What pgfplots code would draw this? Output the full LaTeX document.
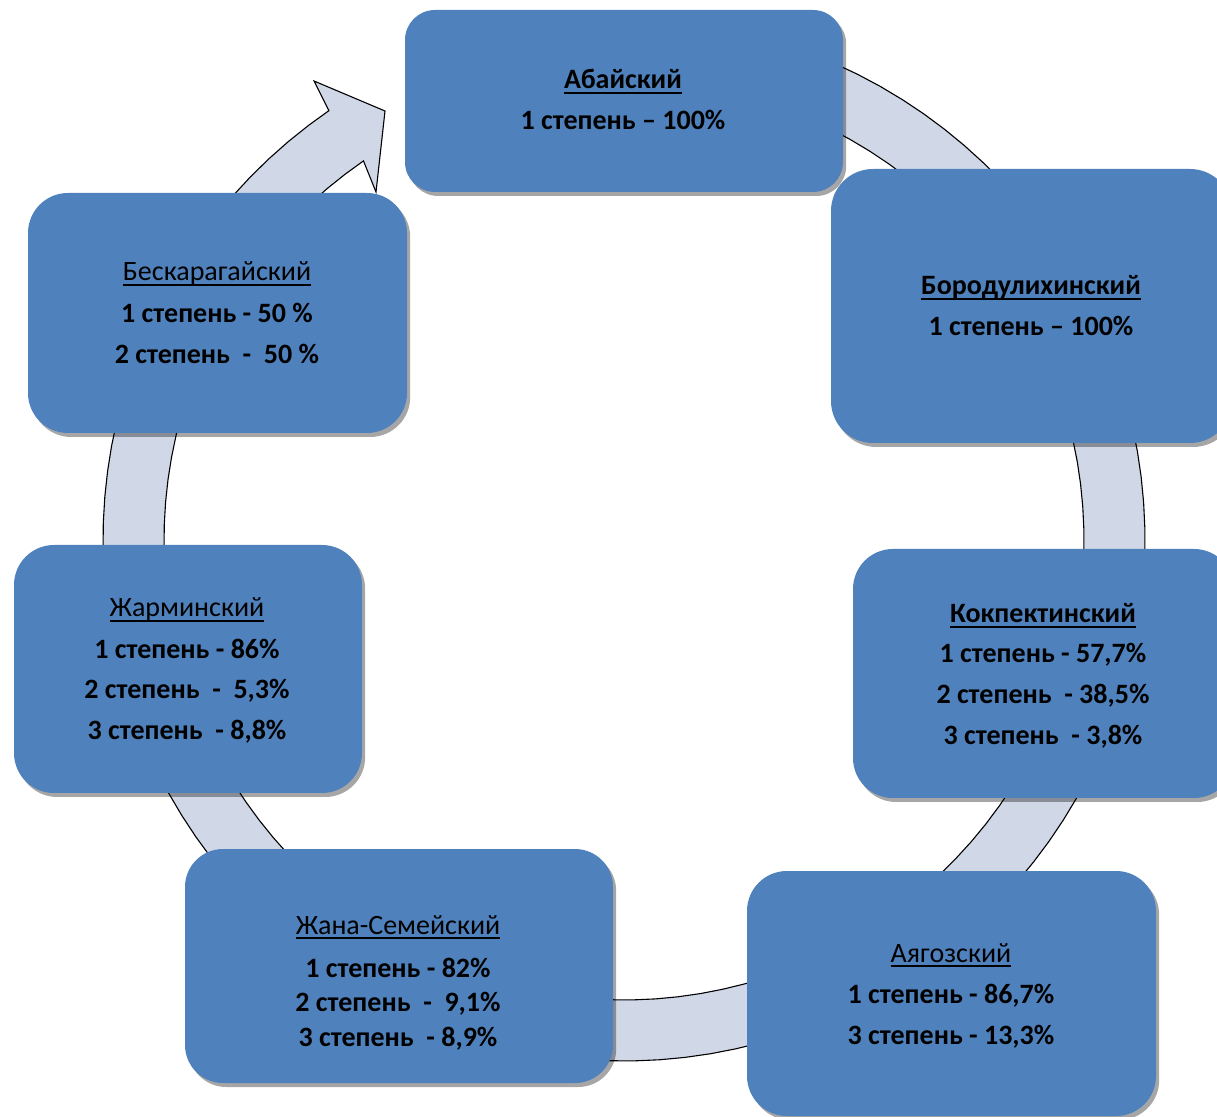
\documentclass[border=0pt]{standalone}
\usepackage{pgfplots}
\pgfplotsset{compat=1.18}
\usepackage{fontspec}
\setmainfont{Carlito}
\usetikzlibrary{shadows}
\definecolor{boxblue}{HTML}{4F81BD}
\definecolor{ringfill}{HTML}{D0D8E8}
\newcommand{\bx}[5]{%
  \fill[boxblue, rounded corners=#5,
    drop shadow={shadow xshift=1.6pt, shadow yshift=-2pt, fill=black, opacity=0.35}]
    (axis cs:#1,#2) rectangle (axis cs:#3,#4);}
\newcommand{\ul}[1]{\setbox0\hbox{#1}\rlap{\rule[-2.6pt]{\wd0}{1pt}}\box0}
\newcommand{\tl}[3]{\node[anchor=base, inner sep=0pt, font=\fontsize{14}{17}\selectfont] at (axis cs:#1,#2) {#3};}
\begin{document}
\begin{tikzpicture}
\begin{axis}[x=0.5pt, y=0.5pt, y dir=reverse,
  xmin=0, xmax=1217, ymin=0, ymax=1117,
  hide axis, scale only axis, clip=false]
% ring arrow
\filldraw[fill=ringfill, draw=black, line width=0.55pt]
  plot[domain=100:-235.5, samples=120, variable=\t] ({624+521*cos(\t)},{540-521*sin(\t)})
  -- (314,81) -- (385,111) -- (376,192)
  -- plot[domain=-235.5:100, samples=120, variable=\t] ({624+460*cos(\t)},{540-460*sin(\t)})
  -- cycle;
% boxes
\bx{831}{169}{1232}{443}{21pt}
\bx{405}{10}{843}{192}{15pt}
\bx{853}{549}{1234}{798}{20pt}
\bx{747}{871}{1156}{1116}{20pt}
\bx{185}{849}{613}{1083}{19pt}
\bx{14}{545}{362}{793}{20pt}
\bx{28}{193}{407}{433}{20pt}
% texts
\tl{623}{89}{\bfseries\ul{Абайский}}
\tl{623}{130}{\bfseries 1 степень – 100\%}
\tl{1031}{295}{\bfseries\ul{Бородулихинский}}
\tl{1031}{336}{\bfseries 1 степень – 100\%}
\tl{1043}{623}{\bfseries\ul{Кокпектинский}}
\tl{1043}{663}{\bfseries 1 степень - 57,7\%}
\tl{1043}{704}{\bfseries 2 степень\ \ - 38,5\%}
\tl{1043}{745}{\bfseries 3 степень\ \ - 3,8\%}
\tl{951}{962}{\ul{Аягозский}}
\tl{951}{1003}{\bfseries 1 степень - 86,7\%}
\tl{951}{1044}{\bfseries 3 степень - 13,3\%}
\tl{398}{934}{\ul{Жана-Семейский}}
\tl{398}{977}{\bfseries 1 степень - 82\%}
\tl{398}{1011}{\bfseries 2 степень\ \ -\ \ 9,1\%}
\tl{398}{1046}{\bfseries 3 степень\ \ - 8,9\%}
\tl{187}{617}{\ul{Жарминский}}
\tl{187}{659}{\bfseries 1 степень - 86\%}
\tl{187}{699}{\bfseries 2 степень\ \ -\ \ 5,3\%}
\tl{187}{740}{\bfseries 3 степень\ \ - 8,8\%}
\tl{217}{281}{\ul{Бескарагайский}}
\tl{217}{323}{\bfseries 1 степень - 50 \%}
\tl{217}{364}{\bfseries 2 степень\ \ -\ \ 50 \%}
\coordinate (BL) at (axis cs:0,1117);
\coordinate (TR) at (axis cs:1217,0);
\end{axis}
\pgfresetboundingbox
\path[use as bounding box] (BL) rectangle (TR);
\end{tikzpicture}
\end{document}
